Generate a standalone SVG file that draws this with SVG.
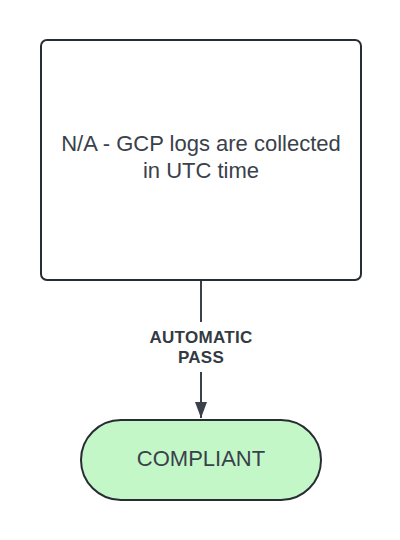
<svg xmlns="http://www.w3.org/2000/svg" width="400" height="540" viewBox="0 0 400 540">
<style>
.shape{stroke:#282c33;stroke-width:2}
.t{font-family:"Liberation Sans",Arial,sans-serif;fill:#3a414a;font-size:22px;text-anchor:middle}
.lbl{font-family:"Liberation Sans",Arial,sans-serif;fill:#333a42;font-size:17px;font-weight:bold;text-anchor:middle;letter-spacing:0.3px}
.conn{stroke:#3a414a;stroke-width:2;fill:none}
</style>
<defs>
<marker id="arr" markerWidth="17" markerHeight="12" refX="16" refY="6" orient="auto" markerUnits="userSpaceOnUse">
<path d="M0,0 L16,6 L0,12 Z" fill="#3a414a"/>
</marker>
</defs>
<rect width="400" height="540" fill="#ffffff"/>
<g id="connectors">
<path class="conn" d="M201,281 V322"/>
<path class="conn" d="M201,372 V418" marker-end="url(#arr)"/>
<text class="lbl" x="201" y="343">AUTOMATIC</text>
<text class="lbl" x="201" y="363">PASS</text>
</g>
<g id="node-na">
<rect class="shape" x="41" y="40" width="320" height="240" rx="6" fill="#ffffff"/>
<text class="t" x="201" y="151">N/A - GCP logs are collected</text>
<text class="t" x="201" y="178">in UTC time</text>
</g>
<g id="node-compliant">
<rect class="shape" x="81" y="420" width="240" height="80" rx="40" fill="#c3f7c8"/>
<text class="t" x="201" y="466">COMPLIANT</text>
</g>
</svg>
